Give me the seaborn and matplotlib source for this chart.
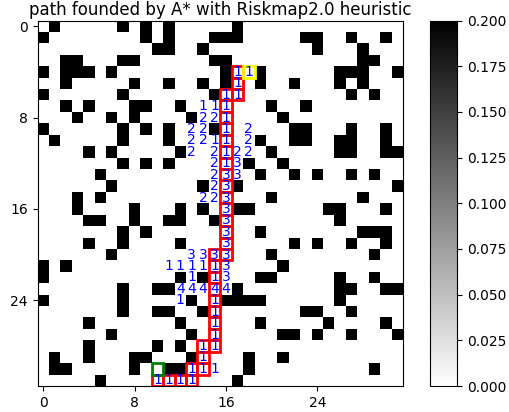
import numpy as np
import matplotlib
matplotlib.use("Agg")
import matplotlib.pyplot as plt
import seaborn as sns
from matplotlib.patches import Rectangle

N = 32
TITLE = "path founded by A* with Riskmap2.0 heuristic"
tick_values = [0, 8, 16, 24]
cbar_ticks = [0.0, 0.025, 0.05, 0.075, 0.1, 0.125, 0.15, 0.175, 0.2]

# obstacle columns per row (risk value >= 0.2 -> black)
obstacle_cols = [
    [1, 7, 9, 11, 17],
    [0, 9, 11, 15, 16, 17, 23, 24, 27, 30],
    [10, 11, 14, 24, 28],
    [2, 3, 7, 8, 15, 16, 28, 29],
    [0, 2, 3, 4, 6, 16, 19, 26, 27, 28, 31],
    [2, 8, 11, 14, 16, 19, 22, 26, 28],
    [0, 7, 15, 27, 29],
    [2, 4, 8, 9, 12, 20, 23],
    [3, 6, 8, 13, 21],
    [0, 7, 9, 11, 15, 22, 23, 27, 30],
    [1, 7, 11, 19, 22, 23, 26, 27, 30],
    [4, 6, 12, 20, 26, 27, 30, 31],
    [7, 9, 11, 18, 21],
    [5, 19, 22, 24, 27, 29],
    [6, 14, 17, 31],
    [3, 5, 20, 28],
    [3, 8, 12, 14, 17, 18, 25, 26, 30],
    [4, 5, 8, 11, 12, 15, 26],
    [7, 9, 19, 28, 29, 30],
    [4, 7, 12, 22, 24, 27, 30],
    [6, 20, 29],
    [0, 2, 21],
    [0, 12, 14, 19, 20, 26, 29],
    [7, 10, 11, 17, 26, 27, 30, 31],
    [0, 7, 13, 16, 17, 18, 19, 26],
    [7, 10, 11, 14, 23, 24, 27],
    [4, 12, 19, 25, 30],
    [6, 13, 21, 22, 24, 27, 31],
    [4, 10, 12],
    [1, 4, 8, 9, 13, 18, 21],
    [1, 2, 8, 11, 12, 18, 29],
    [5, 17],
]
obstacle_value = 1.0

# path cells (row, col, label)
path_rows = [4, 5, 6, 6, 7, 8, 9, 10, 11, 12, 13, 14, 15, 16, 17, 18, 19, 20,
             20, 21, 22, 23, 24, 25, 26, 27, 28, 28, 29, 30, 30, 31, 31, 31, 31]
path_cols = [17, 17, 17, 16, 16, 16, 16, 16, 16, 16, 16, 16, 16, 16, 16, 16, 16, 16,
             15, 15, 15, 15, 15, 15, 15, 15, 15, 14, 14, 14, 13, 13, 12, 11, 10]
path_labels = ["1", "1", "1", "1", "1", "1", "1", "1", "1", "1", "3", "3", "3", "3", "3", "3", "3", "3",
               "3", "1", "1", "4", "1", "1", "1", "1", "1", "1", "1", "1", "1", "1", "1", "1", "1"]

start_cell = (4, 18)
start_label = "1"
goal_cell = (30, 10)

# other expanded cells (row, col, label)
extra_rows = [7, 7, 8, 8, 9, 9, 10, 10, 10, 11, 11, 12, 13, 14, 15, 15,
              9, 10, 11, 11, 12, 13,
              20, 20, 21, 21, 21, 21, 21, 22, 22, 23, 23, 23, 23, 24, 30]
extra_cols = [14, 15, 14, 15, 13, 14, 13, 14, 15, 13, 15, 15, 15, 15, 14, 15,
              18, 18, 17, 18, 17, 17,
              13, 14, 11, 12, 13, 14, 16, 13, 16, 12, 13, 14, 16, 12, 15]
extra_labels = ["1", "1", "2", "2", "2", "2", "2", "2", "1", "2", "2", "2", "2", "2", "2", "2",
                "2", "2", "2", "2", "3", "3",
                "3", "3", "1", "1", "1", "1", "3", "1", "3", "4", "4", "4", "4", "1", "1"]

grid = np.zeros((N, N))
for r, cols in enumerate(obstacle_cols):
    grid[r, cols] = obstacle_value

W, H = 510, 412
fig = plt.figure(figsize=(W / 100, H / 100), dpi=100)
ax = fig.add_axes([37.5 / W, (H - 386) / H, 365.5 / W, 365.5 / H])
cax = fig.add_axes([430 / W, (H - 386) / H, 27 / W, 365.5 / H])

sns.heatmap(grid, cmap="gray_r", vmin=0, vmax=0.2, ax=ax, cbar_ax=cax,
            xticklabels=False, yticklabels=False)

ax.set_xticks([t + 0.5 for t in tick_values])
ax.set_xticklabels([str(t) for t in tick_values], rotation=0)
ax.set_yticks([t + 0.5 for t in tick_values])
ax.set_yticklabels([str(t) for t in tick_values], rotation=0)
ax.tick_params(length=3.5, width=0.8, labelsize=10, direction="out")
for s in ax.spines.values():
    s.set_visible(True)
    s.set_linewidth(0.8)
    s.set_color("black")

cbar = ax.collections[0].colorbar
cbar.outline.set_visible(True)
cbar.outline.set_linewidth(0.8)
cbar.outline.set_edgecolor("black")
cbar.set_ticks(cbar_ticks)
cbar.set_ticklabels([f"{t:.3f}" for t in cbar_ticks])
cbar.ax.tick_params(labelsize=10, length=3.5, width=0.8)

for r, c, lab in zip(path_rows, path_cols, path_labels):
    ax.add_patch(Rectangle((c, r), 1, 1, fill=False, edgecolor="red", lw=2))
    ax.text(c + 0.5, r + 0.5, lab, color="blue", ha="center", va="center", fontsize=10)

ax.add_patch(Rectangle((start_cell[1], start_cell[0]), 1, 1, fill=False, edgecolor="yellow", lw=2))
ax.text(start_cell[1] + 0.5, start_cell[0] + 0.5, start_label, color="blue",
        ha="center", va="center", fontsize=10)
ax.add_patch(Rectangle((goal_cell[1], goal_cell[0]), 1, 1, fill=False, edgecolor="green", lw=2))

for r, c, lab in zip(extra_rows, extra_cols, extra_labels):
    ax.text(c + 0.5, r + 0.5, lab, color="blue", ha="center", va="center", fontsize=10)

ax.set_title(TITLE, fontsize=12, pad=4)

fig.savefig("out.png", dpi=100)
